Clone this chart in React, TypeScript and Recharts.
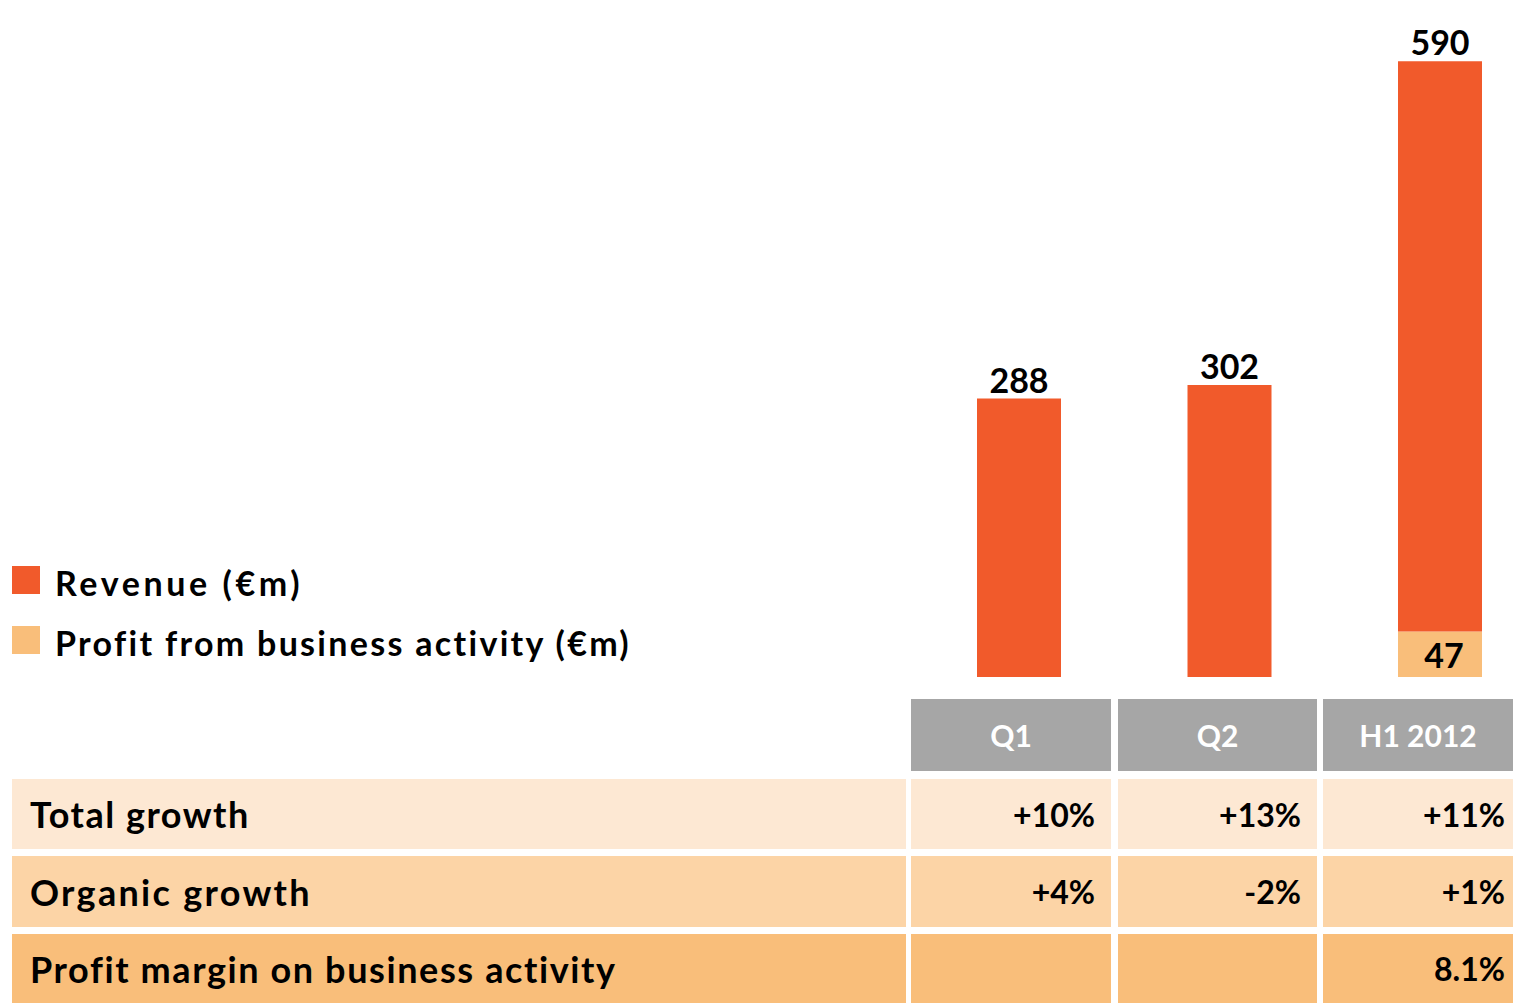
import React from "react";
import { BarChart, Bar, XAxis, YAxis, LabelList } from "recharts";

const categories = ["Q1", "Q2", "H1 2012"];
const revenue = [288, 302, 590];
const profit = [0, 0, 47];
const seriesNames = ["Revenue (€m)", "Profit from business activity (€m)"];
const rowLabels = ["Total growth", "Organic growth", "Profit margin on business activity"];
const totalGrowth = ["+10%", "+13%", "+11%"];
const organicGrowth = ["+4%", "-2%", "+1%"];
const profitMargin = ["", "", "8.1%"];

const ORANGE = "#f15a2b";
const LIGHT = "#f9be7a";
const FONT = "Lato, 'Open Sans', sans-serif";

const chartData = categories.map((name, i) => ({
  name,
  revenue: revenue[i],
  profit: profit[i],
}));

const rows = [
  { label: rowLabels[0], values: totalGrowth, bg: "#fde8d3", top: 779, h: 70, ls: 1.5 },
  { label: rowLabels[1], values: organicGrowth, bg: "#fcd4a6", top: 856, h: 71, ls: 2.3 },
  { label: rowLabels[2], values: profitMargin, bg: "#f9be7a", top: 934, h: 69, ls: 1.6 },
];

// column geometry of the table
const labelCol = { left: 12, width: 894 };
const valueCols = [
  { left: 911, width: 200, pad: 16 },
  { left: 1118, width: 199, pad: 16 },
  { left: 1323, width: 190, pad: 8 },
];

const ProfitLabel = (props: any) => {
  const { x, y, width, height, value } = props;
  if (!value) return null;
  return (
    <text
      x={x + width / 2 + 4}
      y={y + height / 2}
      textAnchor="middle"
      dominantBaseline="central"
      fontFamily={FONT}
      fontWeight={700}
      fontSize={34}
      fill="#000"
    >
      {value}
    </text>
  );
};

function App() {
  return (
    <div
      style={{
        position: "absolute",
        left: 0,
        top: 0,
        width: 1513,
        height: 1003,
        overflow: "hidden",
        background: "#fff",
        fontFamily: FONT,
      }}
    >
      {/* legend */}
      {seriesNames.map((s, i) => (
        <div key={s} style={{ position: "absolute", left: 12, top: 566 + i * 60, height: 28, display: "flex", alignItems: "center" }}>
          <div style={{ width: 28, height: 28, background: i === 0 ? ORANGE : LIGHT }} />
          <span
            style={{
              marginLeft: 15,
              fontSize: 34,
              fontWeight: 700,
              color: "#000",
              whiteSpace: "nowrap",
              lineHeight: "28px",
              position: "relative",
              top: 3,
              letterSpacing: i === 0 ? 3.6 : 2.3,
            }}
          >
            {s}
          </span>
        </div>
      ))}

      {/* bars */}
      <div style={{ position: "absolute", left: 900, top: 0 }}>
        <BarChart
          width={660}
          height={690}
          data={chartData}
          margin={{ top: 10, right: 14.5, bottom: 13, left: 14 }}
          barSize={84}
        >
          <XAxis dataKey="name" hide />
          <YAxis domain={[0, 690]} hide />
          <Bar dataKey="profit" stackId="a" fill={LIGHT} isAnimationActive={false}>
            <LabelList dataKey="profit" content={<ProfitLabel />} />
          </Bar>
          <Bar dataKey="revenue" stackId="a" fill={ORANGE} isAnimationActive={false}>
            <LabelList
              dataKey="revenue"
              position="top"
              offset={6}
              fill="#000"
              fontFamily={FONT}
              fontWeight={700}
              fontSize={34}
            />
          </Bar>
        </BarChart>
      </div>

      {/* header row */}
      {categories.map((c, i) => (
        <div
          key={c}
          style={{
            position: "absolute",
            left: valueCols[i].left,
            width: valueCols[i].width,
            top: 699,
            height: 72,
            background: "#a6a6a6",
            color: "#fff",
            fontSize: 30,
            fontWeight: 700,
            display: "flex",
            alignItems: "center",
            justifyContent: "center",
          }}
        >
          {c}
        </div>
      ))}

      {/* table rows */}
      {rows.map((r) => (
        <React.Fragment key={r.label}>
          <div
            style={{
              position: "absolute",
              left: labelCol.left,
              width: labelCol.width,
              top: r.top,
              height: r.h,
              background: r.bg,
              display: "flex",
              alignItems: "center",
              paddingLeft: 18,
              boxSizing: "border-box",
              fontSize: 36,
              fontWeight: 700,
              color: "#000",
              letterSpacing: r.ls,
            }}
          >
            {r.label}
          </div>
          {r.values.map((v, i) => (
            <div
              key={i}
              style={{
                position: "absolute",
                left: valueCols[i].left,
                width: valueCols[i].width,
                top: r.top,
                height: r.h,
                background: r.bg,
                display: "flex",
                alignItems: "center",
                justifyContent: "flex-end",
                paddingRight: valueCols[i].pad,
                boxSizing: "border-box",
                fontSize: 32,
                fontWeight: 700,
                color: "#000",
              }}
            >
              {v}
            </div>
          ))}
        </React.Fragment>
      ))}
    </div>
  );
}

export default App;
